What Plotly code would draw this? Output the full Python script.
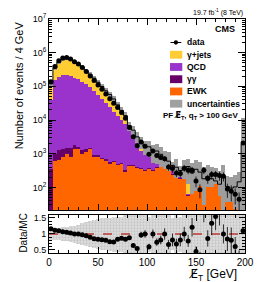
import plotly.graph_objects as go

# ---------------- data ----------------
bin_edges = list(range(0, 201, 4))
bin_centers = [2 + 4 * i for i in range(50)]

data = [138000, 389000, 575000, 692000, 724000, 646000, 537000, 457000, 363000, 275000,
        204000, 148000, 110000, 81300, 58900, 42700, 31600, 23400, 16600, 11200,
        6000, 3160, 1710, 2240, 1660, 960, 1200, 890, 776, 708,
        400, 365, 269, 257, 372, 324, 324, 155, 85, 324,
        182, 240, 240, 224, 214, 89, 76, 62, 44, 2090]

data_err_rel = [0.01, 0.005, 0.005, 0.005, 0.005, 0.005, 0.005, 0.005, 0.006, 0.007,
                0.008, 0.01, 0.012, 0.014, 0.016, 0.02, 0.025, 0.03, 0.035, 0.04,
                0.06, 0.08, 0.1, 0.1, 0.12, 0.15, 0.14, 0.16, 0.17, 0.18,
                0.22, 0.25, 0.25, 0.25, 0.22, 0.24, 0.24, 0.35, 0.45, 0.24,
                0.3, 0.28, 0.28, 0.3, 0.3, 0.45, 0.5, 0.5, 0.6, 0.1]

# cumulative stack levels (events / 4 GeV)
mc_total = [119000, 348000, 524000, 647000, 690000, 627000, 537000, 457000, 374000, 293000,
            227000, 174000, 132000, 99100, 73600, 56900, 42200, 28200, 19300, 13500,
            6820, 5000, 3160, 2310, 1660, 1600, 1200, 1200, 960, 710,
            600, 450, 396, 317, 372, 415, 268, 344, 283, 180,
            212, 180, 155, 124, 214, 106, 95, 103, 146, 1900]
qcd_cum = [39800, 158000, 191000, 214000, 214000, 204000, 182000, 162000, 138000, 117000,
           93300, 72400, 56200, 41700, 32400, 24000, 17800, 13200, 10000, 7590,
           5000, 3470, 2240, 1200, 1100, 850, 600, 620, 560, 500,
           420, 400, 215, 200, 190, 62, 70, 88, 120, 32,
           110, 110, 135, 62, 11, 40, 40, 26, 6, 6]
gg_cum = [350, 955, 1290, 1380, 1480, 1480, 1780, 1580, 1290, 1380,
          1500, 910, 900, 750, 680, 550, 600, 510, 530, 320,
          450, 450, 400, 365, 320, 365, 320, 400, 430, 365,
          320, 255, 205, 185, 185, 60, 67, 84, 117, 31,
          106, 106, 130, 60, 11, 38, 38, 25, 6, 6]
ewk = [15, 620, 660, 810, 980, 810, 1410, 1350, 1000, 1100,
       1410, 810, 810, 680, 620, 500, 550, 470, 490, 290,
       420, 420, 370, 340, 300, 340, 300, 370, 400, 340,
       300, 240, 190, 174, 174, 56, 63, 79, 110, 29,
       100, 100, 123, 56, 10, 36, 36, 23, 5, 5]

mc_unc_rel = [0.15, 0.12, 0.12, 0.12, 0.12, 0.12, 0.12, 0.12, 0.13, 0.14,
              0.15, 0.16, 0.17, 0.18, 0.2, 0.2, 0.22, 0.22, 0.25, 0.25,
              0.3, 0.35, 0.35, 0.4, 0.45, 0.5, 0.55, 0.6, 0.65, 0.7,
              0.9, 0.3, 0.75, 0.35, 0.8, 0.7, 1.0, 0.95, 1.0, 1.2,
              1.2, 1.3, 1.4, 1.5, 1.1, 1.0, 1.1, 1.2, 1.0, 5.0]
ratio_unc_rel = [0.2, 0.2, 0.2, 0.21, 0.22, 0.24, 0.27, 0.3, 0.34, 0.38,
                 0.42, 0.45, 0.47, 0.5, 0.5, 0.52, 0.55, 0.55, 0.55, 0.6,
                 0.6, 0.6, 0.6, 0.62, 0.65, 0.55, 0.6, 0.65, 0.7, 0.7,
                 0.8, 0.5, 0.75, 0.55, 0.8, 0.7, 1.0, 0.95, 1.0, 1.2,
                 1.2, 1.3, 1.4, 1.5, 1.1, 1.0, 1.1, 1.2, 1.0, 5.0]

legend_labels = ["data", "γ+jets", "QCD", "γγ", "EWK", "uncertainties"]
colors = {"gjets": "#ffcc33", "qcd": "#9933cc", "gg": "#660066", "ewk": "#ff6600", "unc": "#9d9d9d"}

# ---------------- geometry helpers ----------------
W, H = 266, 282
L, R, T, B = 49, 249, 14, 253


def px(x):
    return (x - L) / (R - L)


def py(y):
    return (B - y) / (B - T)


FONT = "Liberation Sans, Arial, sans-serif"
MET = "<span style='font-family:DejaVu Sans'>E\u0338</span>"

fig = go.Figure()
bw = [4] * 50

band_lo = [max(m * (1 - u), 1.0) for m, u in zip(mc_total, mc_unc_rel)]
band_hi = [m * (1 + u) for m, u in zip(mc_total, mc_unc_rel)]

for vals, col in [(mc_total, colors["gjets"]), (qcd_cum, colors["qcd"]), (gg_cum, colors["gg"])]:
    fig.add_trace(go.Bar(x=bin_centers, y=vals, width=bw, marker=dict(color=col, line=dict(width=0)),
                         xaxis="x", yaxis="y", showlegend=False, hoverinfo="skip"))
fig.add_trace(go.Bar(x=bin_centers, y=[h - l for h, l in zip(band_hi, band_lo)], base=band_lo, width=bw,
                     marker=dict(color=colors["unc"], line=dict(width=0)),
                     xaxis="x", yaxis="y", showlegend=False, hoverinfo="skip"))
fig.add_trace(go.Bar(x=bin_centers, y=ewk, width=bw, marker=dict(color=colors["ewk"], line=dict(width=0)),
                     xaxis="x", yaxis="y", showlegend=False, hoverinfo="skip"))
fig.add_trace(go.Scatter(x=bin_edges, y=mc_total + [mc_total[-1]], mode="lines", line=dict(color="black", width=1, shape="hv"),
                         xaxis="x", yaxis="y", showlegend=False, hoverinfo="skip"))
fig.add_trace(go.Scatter(x=bin_centers, y=data, mode="markers",
                         marker=dict(color="black", size=5),
                         error_y=dict(type="data", array=[d * e for d, e in zip(data, data_err_rel)],
                                      color="black", thickness=0.8, width=0),
                         xaxis="x", yaxis="y", showlegend=False, hoverinfo="skip"))

# ratio panel
ratio = [d / m for d, m in zip(data, mc_total)]
ratio_err = [d * e / m for d, e, m in zip(data, data_err_rel, mc_total)]
r_lo = [max(1 - u, 0.0) for u in ratio_unc_rel]
r_hi = [1 + u for u in ratio_unc_rel]
fig.add_trace(go.Bar(x=bin_centers, y=[h - l for h, l in zip(r_hi, r_lo)], base=r_lo, width=bw,
                     marker=dict(color="#d9d9d9", line=dict(width=0),
                                 pattern=dict(shape=".", fgcolor="#a8a8a8", bgcolor="#dcdcdc", size=3, solidity=0.35)),
                     xaxis="x2", yaxis="y2", showlegend=False, hoverinfo="skip"))
fig.add_trace(go.Scatter(x=[0, 200], y=[1, 1], mode="lines", line=dict(color="#b83a32", width=1.5, dash="dash"),
                         xaxis="x2", yaxis="y2", showlegend=False, hoverinfo="skip"))
fig.add_trace(go.Scatter(x=bin_centers, y=ratio, mode="markers", marker=dict(color="black", size=5),
                         error_y=dict(type="data", array=ratio_err, color="black", thickness=0.8, width=0),
                         xaxis="x2", yaxis="y2", showlegend=False, hoverinfo="skip"))

major_y = [1e2, 1e3, 1e4, 1e5, 1e6, 1e7]
minor_y = [k * 10 ** n for n in range(1, 7) for k in range(2, 10) if k * 10 ** n > 21]

axis_common = dict(showline=True, linecolor="black", linewidth=1, mirror="ticks", ticks="inside",
                   tickcolor="black", showgrid=False, zeroline=False)

fig.update_layout(
    width=W, height=H, margin=dict(l=L, r=W - R, t=T, b=H - B),
    paper_bgcolor="white", plot_bgcolor="white", barmode="overlay", bargap=0,
    font=dict(family=FONT, size=9, color="black"),
    xaxis=dict(domain=[0, 1], range=[0, 200], anchor="y", showticklabels=False, tickvals=[0, 50, 100, 150, 200],
               ticklen=6, minor=dict(ticks="inside", ticklen=3, dtick=10, tickcolor="black"), **axis_common),
    yaxis=dict(domain=[py(209), 1], type="log", range=[1.33, 7], anchor="x", tickvals=major_y,
               ticktext=["10<sup>2</sup>", "10<sup>3</sup>", "10<sup>4</sup>", "10<sup>5</sup>", "10<sup>6</sup>", "10<sup>7</sup>"],
               ticklen=7, tickfont=dict(size=9),
               minor=dict(ticks="inside", ticklen=3, tickvals=minor_y, tickcolor="black"), **axis_common),
    xaxis2=dict(domain=[0, 1], range=[0, 200], anchor="y2", tickvals=[0, 50, 100, 150, 200], ticklen=6,
                tickfont=dict(size=10), minor=dict(ticks="inside", ticklen=3, dtick=10, tickcolor="black"), **axis_common),
    yaxis2=dict(domain=[0, py(214)], range=[0.4, 1.6], anchor="x2", tickvals=[0.5, 1, 1.5], ticktext=["0.5", "1", "1.5"],
                ticklen=6, tickfont=dict(size=9),
                minor=dict(ticks="inside", ticklen=3, dtick=0.1, tickcolor="black"), **axis_common),
)

ann = []
ann.append(dict(text="Number of events / 4 GeV", x=px(10), y=py(82), textangle=-90, font=dict(size=11)))
ann.append(dict(text="Data/MC", x=px(15), y=py(233), textangle=-90, font=dict(size=10)))
ann.append(dict(text=MET + "<sub>T</sub> [GeV]", x=px(243), y=py(275.5), xanchor="right", font=dict(size=12)))
ann.append(dict(text="19.7 fb<sup>-1</sup> (8 TeV)", x=px(249), y=py(7), xanchor="right", font=dict(size=7)))
ann.append(dict(text="<b>CMS</b>", x=px(241), y=py(24), xanchor="right", font=dict(size=9)))
ann.append(dict(text="<b>PF " + MET + "<sub>T</sub>, q<sub>T</sub> > 100 GeV</b>", x=px(244), y=py(113),
                xanchor="right", font=dict(size=8)))

shapes = []
leg_y = [38, 50.5, 63, 75.5, 88, 100.5]
box_cols = [None, colors["gjets"], colors["qcd"], colors["gg"], colors["ewk"], "#a0a0a0"]
for lab, yy, col in zip(legend_labels, leg_y, box_cols):
    if col is None:
        shapes.append(dict(type="line", xref="paper", yref="paper", x0=px(173), x1=px(184), y0=py(yy), y1=py(yy),
                           line=dict(color="black", width=1)))
        shapes.append(dict(type="circle", xref="paper", yref="paper", x0=px(176.3), x1=px(180.7), y0=py(yy + 2.2), y1=py(yy - 2.2),
                           fillcolor="black", line=dict(width=0)))
    else:
        shapes.append(dict(type="rect", xref="paper", yref="paper", x0=px(172.5), x1=px(185), y0=py(yy + 4), y1=py(yy - 4),
                           fillcolor=col, line=dict(width=0)))
    ann.append(dict(text="<b>" + lab + "</b>", x=px(188), y=py(yy), xanchor="left", font=dict(size=8.5)))

for a in ann:
    a.setdefault("xref", "paper")
    a.setdefault("yref", "paper")
    a.setdefault("showarrow", False)
    a.setdefault("yanchor", "middle")
fig.update_layout(annotations=ann, shapes=shapes)

fig.write_html("out.html", config={"displayModeBar": False},
               post_script="document.body.style.margin='0px';document.body.style.overflow='hidden';")
